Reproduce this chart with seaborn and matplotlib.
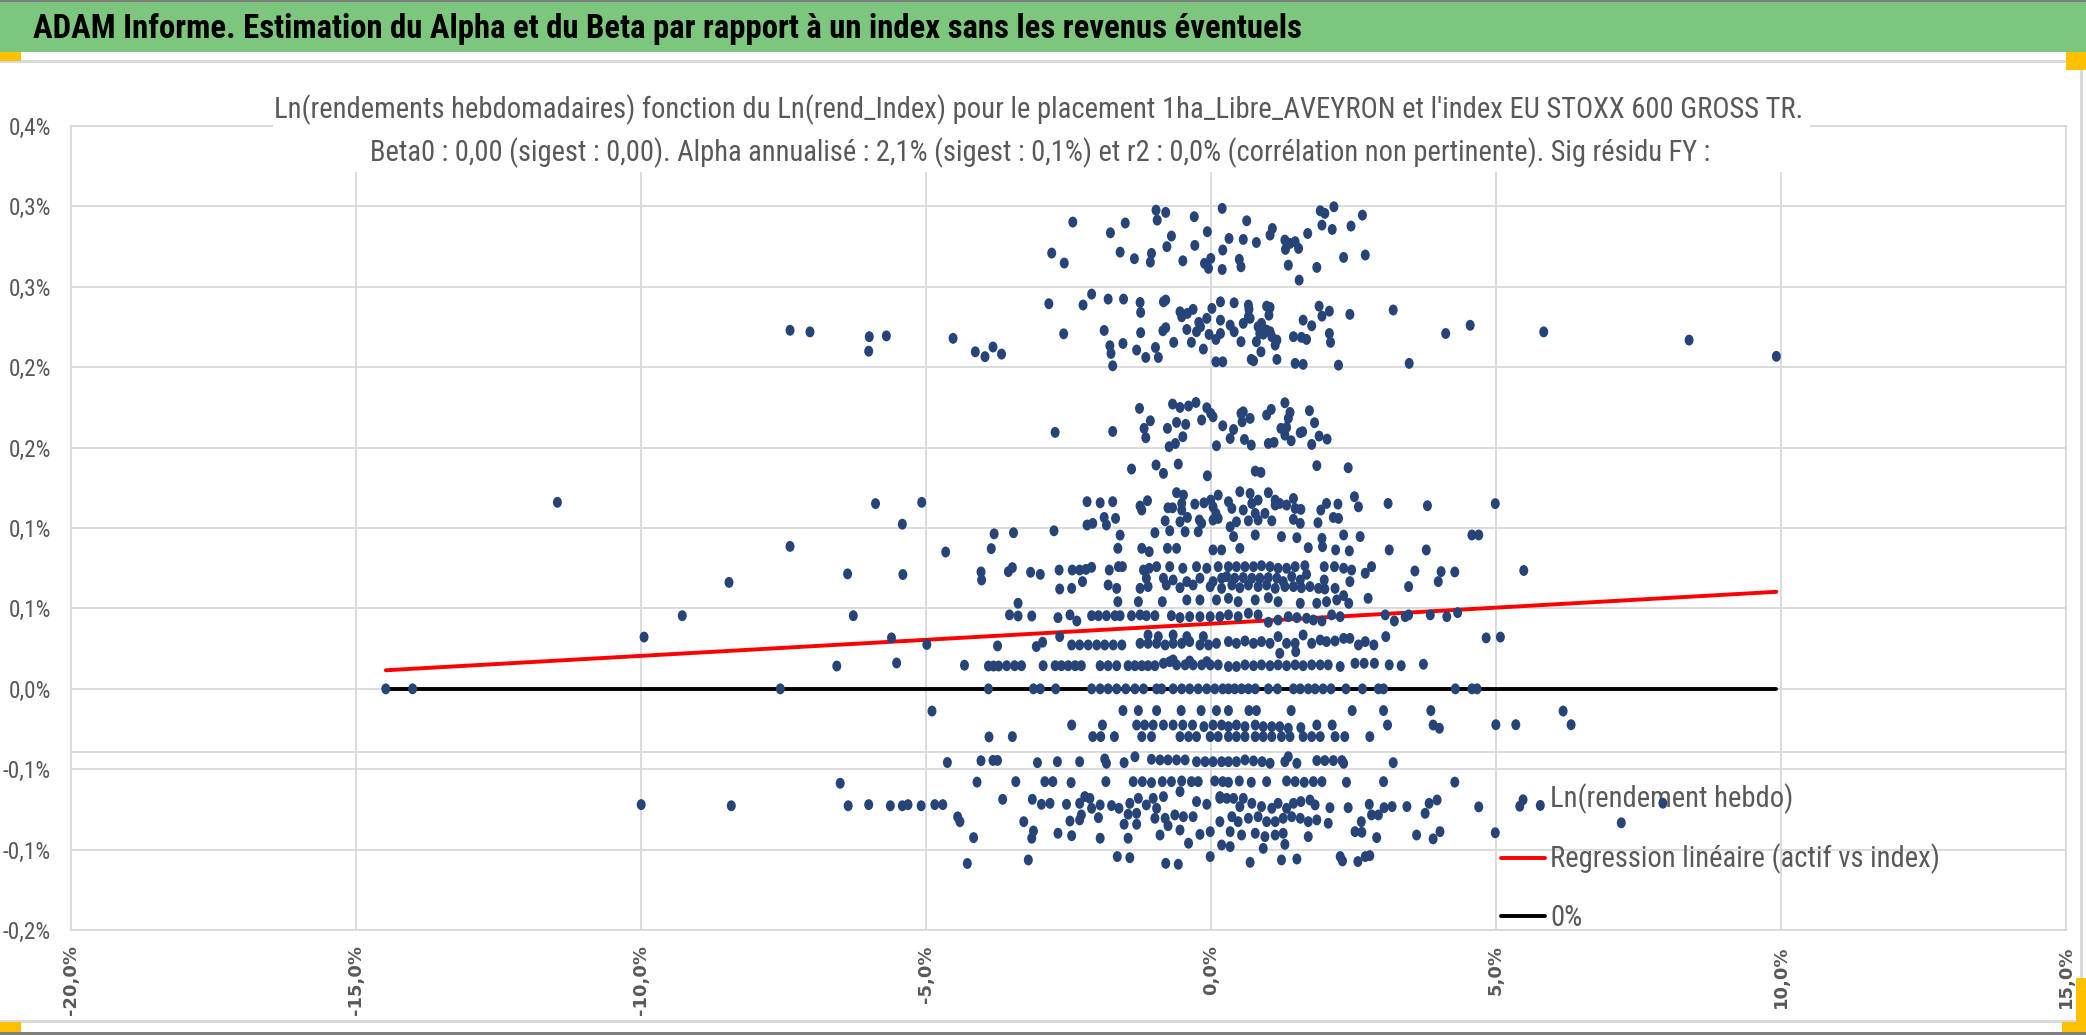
import matplotlib
matplotlib.use("Agg")
import matplotlib.pyplot as plt
from matplotlib import font_manager
from matplotlib.patches import Rectangle
from matplotlib.path import Path
from matplotlib.transforms import Affine2D
import seaborn as sns
import pandas as pd


BANNER = ("ADAM Informe. Estimation du Alpha et du Beta par rapport "
          "à un index sans les revenus éventuels")
TITLE_1 = ("Ln(rendements hebdomadaires) fonction du Ln(rend_Index) pour le placement "
           "1ha_Libre_AVEYRON et l'index EU STOXX 600 GROSS TR.")
TITLE_2 = ("Beta0 : 0,00 (sigest : 0,00). Alpha annualisé : 2,1% (sigest : 0,1%) "
           "et r2 : 0,0% (corrélation non pertinente). Sig résidu FY :")
LEGEND_LABELS = ["Ln(rendement hebdo)", "Regression linéaire (actif vs index)", "0%"]

# axis ticks (values in %)
x_ticks = [-20, -15, -10, -5, 0, 5, 10, 15]
x_tick_labels = ["-20,0%", "-15,0%", "-10,0%", "-5,0%", "0,0%", "5,0%", "10,0%", "15,0%"]
y_ticks = [-0.15, -0.10, -0.05, 0.0, 0.05, 0.10, 0.15, 0.20, 0.25, 0.30, 0.35]
y_tick_labels = ["-0,2%", "-0,1%", "-0,1%", "0,0%", "0,1%", "0,1%",
                 "0,2%", "0,2%", "0,3%", "0,3%", "0,4%"]

# regression (weekly alpha in %, beta)
reg_alpha = 0.0405
reg_beta = 0.0020
odd_line_y = -0.039

# (index ln-return %, asset ln-return %)
weekly_left = [
    (-14.47, 0.0), (-14.00, 0.0), (-11.46, 0.116), (-7.55, 0.0),
    (-7.38, 0.223), (-7.03, 0.222), (-5.99, 0.219), (-6.00, 0.210), (-5.69, 0.2195),
    (-4.52, 0.218), (-4.13, 0.2096), (-3.96, 0.2066), (-3.82, 0.2126),
    (-5.88, 0.1152), (-5.07, 0.116), (-5.41, 0.1024), (-7.38, 0.0886), (-4.65, 0.0851),
    (-3.80, 0.0964), (-3.85, 0.0872),
    (-8.45, 0.0662), (-6.37, 0.0715), (-5.40, 0.0711), (-4.03, 0.0727), (-4.02, 0.0677),
    (-9.27, 0.0455), (-6.27, 0.0455), (-9.94, 0.0322), (-5.60, 0.0317), (-4.98, 0.0276),
    (-3.74, 0.0267),
    (-6.56, 0.0142), (-5.51, 0.0161), (-4.32, 0.0147), (-3.90, 0.0142), (-3.81, 0.0142),
    (-3.72, 0.0142), (-3.90, 0.0),
    (-4.89, -0.0138), (-3.89, -0.0299), (-4.62, -0.0458), (-4.03, -0.0447),
    (-3.82, -0.0445), (-3.74, -0.0445), (-6.50, -0.0587), (-4.10, -0.058),
    (-9.99, -0.072), (-8.41, -0.0727), (-6.36, -0.0727), (-6.00, -0.072), (-5.62, -0.0727),
    (-5.41, -0.0727), (-5.31, -0.072), (-5.08, -0.0727), (-4.84, -0.072), (-4.70, -0.072),
    (-4.44, -0.0796), (-4.40, -0.0826), (-4.16, -0.0925), (-4.27, -0.1086),
]

weekly_right = [
    (4.55, 0.2261), (5.84, 0.222), (8.39, 0.2169), (9.92, 0.2068),
    (4.99, 0.1152), (4.58, 0.0957), (4.70, 0.0957),
    (4.28, 0.0727), (5.49, 0.0736), (4.33, 0.0474), (4.83, 0.0317), (5.08, 0.0322),
    (4.29, 0.0), (4.58, 0.0), (4.67, 0.0),
    (6.18, -0.0138), (5.00, -0.0223), (5.35, -0.0223), (6.32, -0.0223),
    (4.28, -0.058), (4.70, -0.0734), (5.42, -0.073), (5.78, -0.0725), (7.93, -0.0711),
    (7.20, -0.0833), (4.99, -0.0895),
]

band_top = [
    (-0.96, 0.2977), (-0.79, 0.2963), (-0.94, 0.2915), (-0.29, 0.2936), (0.20, 0.2988),
    (-2.42, 0.2903), (-1.50, 0.2897), (-1.76, 0.2836), (-0.69, 0.2816), (-0.06, 0.2843),
    (-2.79, 0.271), (-2.57, 0.2648), (-1.59, 0.2716), (-1.34, 0.2675), (-1.04, 0.2708),
    (-1.06, 0.2654), (-0.77, 0.275), (-0.28, 0.2758), (-0.49, 0.2662), (-0.11, 0.2646),
    (0.00, 0.2677), (-0.04, 0.2615), (0.21, 0.2729), (0.20, 0.2608),
    (0.63, 0.2911), (0.32, 0.2801), (0.57, 0.2795), (0.80, 0.2776), (0.50, 0.2671),
    (0.53, 0.2625), (1.04, 0.2822), (1.08, 0.2863), (1.30, 0.2791), (1.39, 0.2770),
    (1.48, 0.2781), (1.31, 0.2733), (1.54, 0.2739), (1.70, 0.2832), (1.36, 0.2635),
    (1.55, 0.2542), (1.92, 0.2973), (2.00, 0.2957), (2.16, 0.2998), (1.95, 0.2884),
    (2.13, 0.2857), (2.46, 0.2878), (2.66, 0.2946), (2.33, 0.2683), (2.71, 0.2698),
    (1.86, 0.2621),
]

band_upper = [
    (-2.84, 0.2395), (-2.24, 0.2387), (-2.09, 0.2455), (-1.80, 0.2424), (-1.53, 0.2424),
    (-1.24, 0.2403), (-1.23, 0.2341), (-0.83, 0.2407), (-0.79, 0.2418), (-0.54, 0.2345),
    (-0.51, 0.2314), (-0.41, 0.2335), (-0.31, 0.2360), (0.02, 0.2366), (0.17, 0.2407),
    (-2.58, 0.2208), (-1.87, 0.2229), (-1.77, 0.2134), (-1.75, 0.2086), (-1.72, 0.2009),
    (-1.54, 0.2148), (-1.30, 0.2107), (-1.23, 0.2215), (-1.14, 0.2061), (-0.97, 0.2123),
    (-0.92, 0.2061), (-0.84, 0.2227), (-0.79, 0.2246), (-0.65, 0.2155), (-0.42, 0.2235),
    (-0.34, 0.2155), (-0.25, 0.2221), (-0.21, 0.2279), (-0.18, 0.2252), (-0.13, 0.2113),
    (-0.07, 0.2304), (-0.03, 0.2204), (0.09, 0.2173), (0.17, 0.2293), (0.17, 0.2210),
    (0.09, 0.2034), (0.21, 0.2034), (-3.67, 0.2082),
    (0.41, 0.2401), (0.66, 0.2387), (0.67, 0.2360), (0.98, 0.2380), (1.04, 0.2372),
    (1.02, 0.2324), (0.34, 0.2262), (0.41, 0.2221), (0.57, 0.2273), (0.66, 0.2314),
    (0.69, 0.2304), (0.83, 0.2252), (0.89, 0.2273), (0.86, 0.2210), (0.92, 0.2206),
    (0.98, 0.2231), (1.04, 0.2221), (1.07, 0.2190), (1.16, 0.2169), (1.13, 0.2138),
    (0.80, 0.2159), (0.53, 0.2159), (0.88, 0.2096), (0.71, 0.2049), (0.75, 0.2040),
    (1.16, 0.2049), (1.48, 0.2024), (1.62, 0.2018), (1.45, 0.2190), (1.59, 0.2186),
    (1.68, 0.2173), (1.62, 0.2293), (1.77, 0.2258), (1.90, 0.2380), (1.95, 0.2318),
    (2.08, 0.2349), (2.08, 0.2210), (2.10, 0.2155), (2.44, 0.2329), (2.24, 0.2013),
    (3.20, 0.2356), (3.48, 0.2024), (4.12, 0.2210),
]

band_mid = [
    (-1.25, 0.1744), (-1.17, 0.1620), (-1.14, 0.1562), (-1.06, 0.1667), (-0.76, 0.1620),
    (-0.67, 0.1771), (-0.60, 0.1657), (-0.54, 0.1750), (-0.44, 0.1645), (-0.39, 0.1759),
    (-0.26, 0.1781), (-0.16, 0.1672), (-0.49, 0.1568), (-0.62, 0.1526), (-0.73, 0.1506),
    (-0.07, 0.1748), (0.00, 0.1713), (0.04, 0.1692), (0.21, 0.1636), (-2.73, 0.1595),
    (-1.72, 0.1601), (0.10, 0.1512),
    (0.40, 0.1613), (0.34, 0.1557), (0.53, 0.1713), (0.57, 0.1723), (0.55, 0.1661),
    (0.69, 0.1682), (0.59, 0.1551), (0.71, 0.1516), (0.98, 0.1703), (1.06, 0.1738),
    (1.30, 0.1779), (1.39, 0.1719), (1.36, 0.1682), (1.23, 0.1620), (1.33, 0.1626),
    (1.30, 0.1578), (1.41, 0.1543), (1.57, 0.1593), (1.61, 0.1599), (1.73, 0.1730),
    (1.82, 0.1655), (1.90, 0.1572), (1.77, 0.1520), (2.04, 0.1553), (1.01, 0.1526),
    (1.11, 0.1533),
]

band_low = [
    (-1.39, 0.1367), (-0.96, 0.1392), (-0.83, 0.1340), (-0.57, 0.1398), (-0.06, 0.1325),
    (-0.60, 0.1220), (-0.48, 0.1205), (-0.51, 0.1153), (-0.51, 0.1112), (-0.28, 0.1149),
    (-0.12, 0.1157), (0.00, 0.1174), (0.04, 0.1132), (0.13, 0.1205), (0.09, 0.1091),
    (0.04, 0.1050), (0.13, 0.1060), (-2.17, 0.1164), (-1.94, 0.1157), (-1.72, 0.1164),
    (-1.24, 0.1137), (-1.21, 0.1112), (-1.11, 0.1170), (-0.75, 0.1126), (-0.67, 0.1126),
    (-0.80, 0.1045), (-0.54, 0.1039), (-0.41, 0.1066), (-0.20, 0.1050), (-0.16, 0.1029),
    (-2.17, 0.1019), (-2.07, 0.1029), (-1.87, 0.1066), (-1.83, 0.1019), (-1.67, 0.1060),
    (-3.46, 0.0971), (-2.75, 0.0983), (-1.59, 0.0956), (-0.98, 0.0971), (-0.72, 0.0983),
    (-0.45, 0.0977), (-0.22, 0.0977),
    (0.78, 0.1354), (0.88, 0.1346), (1.86, 0.1388), (2.41, 0.1375), (0.51, 0.1226),
    (0.69, 0.1215), (1.01, 0.1220), (1.13, 0.1174), (0.83, 0.1174), (0.72, 0.1153),
    (0.31, 0.1164), (0.37, 0.1122), (0.57, 0.1112), (0.78, 0.1091), (0.95, 0.1091),
    (1.13, 0.1143), (1.21, 0.1153), (1.33, 0.1143), (1.45, 0.1184), (1.48, 0.1122),
    (1.58, 0.1116), (1.45, 0.1054), (1.57, 0.1029), (1.07, 0.1045), (0.83, 0.1050),
    (0.66, 0.1045), (0.45, 0.1039), (0.34, 0.1008), (1.93, 0.1112), (2.03, 0.1153),
    (2.23, 0.1149), (2.15, 0.1066), (2.24, 0.1060), (1.88, 0.1033), (2.52, 0.1195),
    (2.59, 0.1132), (3.11, 0.1153), (3.80, 0.1139),
]

rows_pos = [
    # ~0.09
    (-1.63, 0.0874), (-1.21, 0.0874), (-1.08, 0.0853), (-0.76, 0.0874), (-0.60, 0.0874),
    (0.04, 0.0864), (0.19, 0.0864), (0.40, 0.0947), (0.78, 0.0957), (1.24, 0.0947),
    (1.51, 0.0940), (1.95, 0.0936), (2.33, 0.0957), (2.62, 0.0947), (0.51, 0.0874),
    (1.71, 0.0878), (1.96, 0.0884), (2.19, 0.0864), (2.43, 0.0858), (3.13, 0.0864),
    (3.78, 0.0864),
    # ~0.07
    (-3.55, 0.0729), (-3.48, 0.0754), (-3.16, 0.0725), (-2.99, 0.0712), (-2.66, 0.0739),
    (-2.43, 0.0739), (-2.30, 0.0739), (-2.19, 0.0743), (-2.09, 0.0756), (-1.78, 0.0739),
    (-1.62, 0.0760), (-1.55, 0.0760), (-1.18, 0.0739), (-1.08, 0.0750), (-0.95, 0.0760),
    (-0.72, 0.0760), (-0.49, 0.0750), (-0.25, 0.0760), (-0.07, 0.0750), (0.13, 0.0760),
    (-1.13, 0.0688), (-0.83, 0.0688), (-0.66, 0.0677), (-0.42, 0.0667), (-0.19, 0.0688),
    (0.04, 0.0667), (0.19, 0.0688),
    (0.31, 0.0760), (0.45, 0.0760), (0.60, 0.0760), (0.75, 0.0760), (0.89, 0.0766),
    (1.04, 0.0760), (1.18, 0.0750), (1.33, 0.0750), (1.48, 0.0760), (1.65, 0.0766),
    (1.99, 0.0760), (2.17, 0.0760), (2.33, 0.0750), (2.47, 0.0739), (2.82, 0.0760),
    (2.71, 0.0719), (0.28, 0.0698), (0.42, 0.0688), (0.57, 0.0692), (0.72, 0.0688),
    (0.86, 0.0688), (1.01, 0.0692), (1.16, 0.0688), (1.27, 0.0667), (1.42, 0.0698),
    (1.57, 0.0677), (1.68, 0.0712), (1.99, 0.0677), (2.44, 0.0667), (3.58, 0.0733),
    (3.99, 0.0667), (4.04, 0.0729),
    # ~0.063
    (-2.65, 0.0621), (-2.44, 0.0625), (-2.25, 0.0667), (-1.80, 0.0646), (-1.65, 0.0625),
    (-1.24, 0.0625), (-1.10, 0.0636), (-0.78, 0.0646), (-0.54, 0.0629), (-0.31, 0.0646),
    (-0.01, 0.0636), (0.19, 0.0625), (0.37, 0.0646), (0.51, 0.0629), (0.66, 0.0646),
    (0.83, 0.0636), (0.98, 0.0646), (1.13, 0.0625), (1.30, 0.0636), (1.45, 0.0636),
    (1.59, 0.0629), (1.74, 0.0636), (1.89, 0.0625), (2.00, 0.0621), (2.18, 0.0625),
    (3.47, 0.0636),
    # ~0.055
    (-3.38, 0.0532), (-1.63, 0.0542), (-1.27, 0.0542), (-0.85, 0.0542), (-0.42, 0.0553),
    (-0.19, 0.0553), (0.10, 0.0553), (0.31, 0.0563), (0.48, 0.0542), (0.78, 0.0553),
    (1.01, 0.0567), (1.18, 0.0542), (1.57, 0.0532), (1.86, 0.0532), (2.03, 0.0542),
    (2.21, 0.0553), (2.33, 0.0580), (2.42, 0.0532), (2.76, 0.0563),
    # ~0.045
    (-3.53, 0.0460), (-3.38, 0.0453), (-3.14, 0.0453), (-2.68, 0.0443), (-2.47, 0.0460),
    (-2.35, 0.0422), (-2.09, 0.0455), (-1.97, 0.0455), (-1.83, 0.0455), (-1.68, 0.0455),
    (-1.59, 0.0455), (-1.39, 0.0455), (-1.24, 0.0460), (-1.13, 0.0455), (-0.98, 0.0455),
    (-0.69, 0.0455), (-0.54, 0.0443), (-0.37, 0.0449), (-0.19, 0.0449), (-0.01, 0.0449),
    (0.16, 0.0449), (0.31, 0.0460), (0.48, 0.0449), (0.66, 0.0470), (0.83, 0.0460),
    (1.01, 0.0414), (1.18, 0.0428), (1.36, 0.0449), (1.51, 0.0443), (1.68, 0.0439),
    (1.80, 0.0428), (1.95, 0.0422), (2.12, 0.0460), (2.27, 0.0449), (3.06, 0.0460),
    (3.22, 0.0422), (3.41, 0.0449), (3.47, 0.0460), (3.85, 0.0460), (4.14, 0.0449),
    # ~0.028
    (-3.06, 0.0263), (-2.95, 0.0290), (-2.65, 0.0325), (-2.44, 0.0273), (-2.30, 0.0273),
    (-2.15, 0.0273), (-2.00, 0.0273), (-1.86, 0.0273), (-1.71, 0.0273), (-1.56, 0.0273),
    (-1.24, 0.0283), (-1.10, 0.0283), (-0.95, 0.0283), (-0.80, 0.0273), (-0.66, 0.0283),
    (-0.51, 0.0283), (-0.37, 0.0294), (-0.19, 0.0273), (-0.04, 0.0273), (0.10, 0.0283),
    (-1.10, 0.0335), (-0.92, 0.0325), (-0.66, 0.0335), (-0.42, 0.0325), (-0.13, 0.0325),
    (0.31, 0.0294), (0.45, 0.0283), (0.60, 0.0298), (0.75, 0.0283), (0.89, 0.0294),
    (1.04, 0.0283), (1.18, 0.0325), (1.33, 0.0283), (1.48, 0.0283), (1.62, 0.0335),
    (1.77, 0.0283), (1.92, 0.0304), (2.03, 0.0294), (2.18, 0.0298), (2.33, 0.0314),
    (2.44, 0.0314), (2.59, 0.0273), (2.71, 0.0294), (2.86, 0.0273), (3.07, 0.0325),
    (1.21, 0.0221), (1.49, 0.0231),
    # ~0.015
    (-3.58, 0.0144), (-3.44, 0.0144), (-3.32, 0.0144), (-2.94, 0.0144), (-2.73, 0.0144),
    (-2.62, 0.0144), (-2.50, 0.0144), (-2.38, 0.0144), (-2.27, 0.0144), (-1.94, 0.0144),
    (-1.80, 0.0144), (-1.65, 0.0144), (-1.45, 0.0144), (-1.33, 0.0144), (-1.21, 0.0144),
    (-1.10, 0.0144), (-0.98, 0.0144), (-0.83, 0.0159), (-0.72, 0.0169), (-0.60, 0.0149),
    (-0.45, 0.0149), (-0.31, 0.0149), (-0.16, 0.0149), (-0.01, 0.0149), (0.13, 0.0149),
    (-0.66, 0.0180), (-0.37, 0.0173), (-0.07, 0.0169),
    (0.31, 0.0139), (0.45, 0.0139), (0.60, 0.0149), (0.75, 0.0144), (0.89, 0.0149),
    (1.04, 0.0144), (1.18, 0.0149), (1.33, 0.0144), (1.48, 0.0149), (1.62, 0.0144),
    (1.77, 0.0149), (1.92, 0.0149), (2.06, 0.0149), (2.27, 0.0139), (2.53, 0.0159),
    (2.69, 0.0159), (2.87, 0.0159), (3.13, 0.0149), (3.34, 0.0144), (3.73, 0.0153),
]

zero_row_x = [
    -3.11, -2.99, -2.72, -2.09, -1.94, -1.80, -1.65, -1.49, -1.33, -1.18, -0.95, -0.86,
    -0.66, -0.51, -0.37, -0.22, -0.07, 0.07, 0.21, 0.31, 0.42, 0.54, 0.66, 0.78, 1.01,
    1.17, 1.45, 1.57, 1.71, 1.83, 1.97, 2.11, 2.37, 2.66, 2.94, 3.03,
]

rows_neg = [
    # ~-0.014
    (-1.54, -0.0135), (-1.27, -0.0135), (-0.95, -0.0135), (-0.52, -0.0135), (-0.17, -0.0135),
    (0.10, -0.0135), (0.31, -0.0135), (0.67, -0.0135), (0.80, -0.0135), (1.41, -0.0135),
    (2.48, -0.0135), (3.03, -0.0135), (3.86, -0.0135),
    # ~-0.023
    (-2.44, -0.0225), (-1.90, -0.0225), (-1.30, -0.0225), (-1.16, -0.0225), (-1.01, -0.0225),
    (-0.83, -0.0225), (-0.66, -0.0225), (-0.49, -0.0225), (-0.32, -0.0225), (-0.12, -0.0235),
    (0.04, -0.0225), (0.19, -0.0225), (0.31, -0.0235), (0.45, -0.0225), (0.60, -0.0235),
    (0.78, -0.0225), (0.92, -0.0235), (1.07, -0.0235), (1.21, -0.0235), (1.36, -0.0245),
    (1.58, -0.0241), (1.86, -0.0225), (2.13, -0.0225), (3.10, -0.0225), (3.90, -0.0225),
    (4.01, -0.0245),
    # ~-0.030
    (-3.48, -0.0297), (-2.07, -0.0297), (-1.93, -0.0297), (-1.69, -0.0297), (-1.21, -0.0297),
    (-1.04, -0.0297), (-0.54, -0.0297), (-0.39, -0.0297), (-0.25, -0.0297), (-0.01, -0.0297),
    (0.13, -0.0297), (0.31, -0.0297), (0.45, -0.0297), (0.60, -0.0297), (0.78, -0.0297),
    (0.92, -0.0297), (1.07, -0.0297), (1.24, -0.0297), (1.39, -0.0297), (1.62, -0.0297),
    (1.77, -0.0297), (1.92, -0.0297), (2.18, -0.0297), (2.35, -0.0297), (2.79, -0.0297),
    # ~-0.045
    (-3.04, -0.0459), (-2.69, -0.0453), (-2.30, -0.0453), (-1.86, -0.0436), (-1.83, -0.0463),
    (-1.52, -0.0459), (-1.33, -0.0422), (-1.04, -0.0438), (-0.89, -0.0442), (-0.75, -0.0442),
    (-0.60, -0.0442), (-0.45, -0.0442), (-0.25, -0.0453), (-0.10, -0.0453), (0.04, -0.0453),
    (0.19, -0.0453), (0.31, -0.0453), (0.45, -0.0453), (0.60, -0.0442), (0.75, -0.0448),
    (0.90, -0.0453), (1.04, -0.0463), (1.30, -0.0453), (1.36, -0.0422), (1.51, -0.0463),
    (1.86, -0.0446), (2.00, -0.0446), (2.15, -0.0446), (2.30, -0.0446), (2.33, -0.0463),
    (3.20, -0.0459),
    # ~-0.058
    (-3.42, -0.0577), (-2.91, -0.0577), (-2.77, -0.0577), (-2.45, -0.0583), (-1.84, -0.0577),
    (-1.36, -0.0577), (-1.20, -0.0577), (-1.04, -0.0583), (-0.85, -0.0577), (-0.69, -0.0577),
    (-0.51, -0.0573), (-0.34, -0.0577), (-0.22, -0.0577), (0.07, -0.0573), (0.21, -0.0577),
    (-0.54, -0.0639), (0.16, -0.0670), (0.31, -0.0581), (0.50, -0.0573), (0.71, -0.0581),
    (0.98, -0.0577), (1.33, -0.0573), (1.48, -0.0577), (1.64, -0.0581), (1.80, -0.0577),
    (1.95, -0.0577), (2.38, -0.0581), (3.03, -0.0577),
]

band_bottom = [
    (-3.65, -0.0687), (-3.13, -0.0687), (-2.97, -0.0718), (-2.82, -0.0712), (-2.53, -0.0718),
    (-2.30, -0.0712), (-2.21, -0.0670), (-2.12, -0.0681), (-2.09, -0.0743), (-1.94, -0.0722),
    (-1.74, -0.0726), (-1.61, -0.0743), (-1.42, -0.0712), (-1.27, -0.0681), (-1.01, -0.0681),
    (-0.83, -0.0670), (-2.27, -0.0784), (-2.30, -0.0815), (-2.47, -0.0822), (-1.97, -0.0801),
    (-1.45, -0.0780), (-1.30, -0.0774), (-1.13, -0.0722), (-0.95, -0.0743), (-3.28, -0.0826),
    (-3.11, -0.0884), (-3.14, -0.0929), (-2.68, -0.0898), (-2.44, -0.0913), (-1.94, -0.0929),
    (-1.45, -0.0929), (-1.52, -0.0842), (-1.30, -0.0842), (-0.98, -0.0805), (-0.80, -0.0805),
    (-0.63, -0.0784), (-0.48, -0.0795), (-0.31, -0.0795), (-0.25, -0.0701), (-0.07, -0.0718),
    (0.16, -0.0681), (-0.89, -0.0909), (-0.75, -0.0851), (-0.54, -0.0878), (-0.39, -0.0960),
    (-0.19, -0.0905), (-0.01, -0.0888), (0.16, -0.0826), (0.19, -0.0971), (-3.20, -0.1064),
    (-1.64, -0.1043), (-1.42, -0.1050), (-0.79, -0.1085), (-0.57, -0.1091), (-0.01, -0.1043),
    (0.28, -0.0681), (0.40, -0.0681), (0.57, -0.0681), (0.51, -0.0732), (0.72, -0.0712),
    (0.89, -0.0732), (1.07, -0.0743), (1.18, -0.0712), (1.33, -0.0743), (1.45, -0.0712),
    (1.58, -0.0701), (1.74, -0.0691), (1.83, -0.0722), (2.09, -0.0739), (2.41, -0.0739),
    (2.78, -0.0718), (3.04, -0.0739), (3.18, -0.0732), (3.44, -0.0732), (3.97, -0.0691),
    (3.83, -0.0712), (3.76, -0.0774), (2.82, -0.0784), (2.94, -0.0784), (2.64, -0.0826),
    (0.37, -0.0795), (0.48, -0.0826), (0.66, -0.0805), (0.83, -0.0795), (0.98, -0.0826),
    (1.13, -0.0826), (1.27, -0.0805), (1.42, -0.0795), (1.57, -0.0805), (1.71, -0.0826),
    (1.86, -0.0815), (2.06, -0.0836), (0.34, -0.0888), (0.54, -0.0909), (0.78, -0.0898),
    (0.95, -0.0919), (1.13, -0.0909), (1.27, -0.0898), (1.71, -0.0919), (2.53, -0.0888),
    (2.65, -0.0892), (2.91, -0.0925), (3.61, -0.0909), (4.02, -0.0888), (3.90, -0.0933),
    (0.34, -0.0981), (0.92, -0.0992), (1.30, -0.0967), (0.69, -0.1079), (1.24, -0.1064),
    (1.51, -0.1058), (2.27, -0.1043), (2.31, -0.1070), (2.58, -0.1074), (2.71, -0.1043),
    (2.79, -0.1037),
]


def build_frame():
    pts = (weekly_left + weekly_right + band_top + band_upper + band_mid
           + band_low + rows_pos + [(x, 0.0) for x in zero_row_x]
           + rows_neg + band_bottom)
    return pd.DataFrame(pts, columns=["index", "actif"])


def main():
    df = build_frame()

    sns.set_style("white")
    installed = {f.name for f in font_manager.fontManager.ttflist}
    prefer = ["Liberation Sans Narrow", "Roboto Condensed", "Open Sans Condensed",
              "Liberation Sans"]
    narrow = next((n for n in prefer if n in installed), "DejaVu Sans")
    plt.rcParams["font.family"] = [narrow, "DejaVu Sans"]

    grey_txt = "#595959"
    grid_col = "#D9D9D9"
    W, H = 2086, 1035

    fig = plt.figure(figsize=(W / 100, H / 100), dpi=100)
    renderer = fig.canvas.get_renderer()

    def size_for(text, width_px, weight="normal"):
        # font size that gives the wanted pixel width in the chosen family
        t = fig.text(0, 0, text, fontsize=20, fontweight=weight)
        w = t.get_window_extent(renderer).width
        t.remove()
        return 20 * width_px / w

    ytick_size = size_for("-0,1%", 48)
    legend_size = size_for(LEGEND_LABELS[1], 389)

    ax = fig.add_axes([0.0338, 0.1014, 0.9566, 0.7768])

    # Excel markers are a little taller than wide
    dot = Path.unit_circle().transformed(Affine2D().scale(0.82, 1.0))
    sns.scatterplot(data=df, x="index", y="actif", ax=ax, color="#264478",
                    marker=dot, s=62, edgecolor="none", label=LEGEND_LABELS[0], zorder=3)

    x_lo, x_hi = df["index"].min(), df["index"].max()
    sns.lineplot(x=[x_lo, x_hi], y=[reg_alpha + reg_beta * x_lo, reg_alpha + reg_beta * x_hi],
                 ax=ax, color="#FF0000", linewidth=2.8, label=LEGEND_LABELS[1], zorder=2)
    sns.lineplot(x=[x_lo, x_hi], y=[0.0, 0.0], ax=ax, color="black",
                 linewidth=2.8, label=LEGEND_LABELS[2], zorder=2)
    ax.axhline(odd_line_y, color=grid_col, linewidth=1.3, zorder=0)

    ax.set_xlim(-20, 15)
    ax.set_ylim(-0.15, 0.35)
    ax.set_xticks(x_ticks, labels=x_tick_labels, rotation=90, fontfamily="DejaVu Sans",
                  fontweight="bold", fontsize=13, color=grey_txt)
    ax.set_yticks(y_ticks, labels=y_tick_labels, fontsize=ytick_size, color=grey_txt)
    ax.tick_params(axis="x", length=0, pad=11)
    ax.tick_params(axis="y", length=0, pad=14)
    ax.grid(True, color=grid_col, linewidth=1.3)
    ax.set_axisbelow(True)
    for sp in ax.spines.values():
        sp.set_color(grid_col)
        sp.set_linewidth(1.3)
    ax.set_xlabel("")
    ax.set_ylabel("")

    # rows about 59 px apart, first row centred near y = 800 px
    f_px = legend_size * 100 / 72
    spacing = (62.5 - 1.15 * f_px) / f_px
    top_px = 800 - 0.58 * f_px
    leg = ax.legend(loc="upper left", bbox_to_anchor=(0.7169, (930 - top_px) / 804),
                    frameon=False, fontsize=legend_size, labelcolor=grey_txt,
                    handlelength=44 / f_px, handletextpad=5 / f_px,
                    labelspacing=spacing, borderpad=0, borderaxespad=0)
    leg.set_zorder(2.5)

    def box(x0, y0, x1, y1, color, z=1):
        fig.add_artist(Rectangle((x0 / W, 1 - y1 / H), (x1 - x0) / W, (y1 - y0) / H,
                                 transform=fig.transFigure, facecolor=color,
                                 edgecolor="none", zorder=z))

    # green banner and frame bits
    box(0, 0, W, 52, "#7DC67D")
    box(0, 0, W, 2, "#7F7F7F")
    box(0, 60, W, 63, grid_col)
    box(0, 1020, W, 1023, grid_col)
    box(0, 1032, W, 1035, "#7F7F7F")
    box(2080, 63, 2083, 1020, grid_col)
    # selection handles
    box(0, 52, 21, 61, "#FFC000", 3)
    box(2066, 52, 2086, 70, "#FFC000", 3)
    box(0, 1022, 21, 1032, "#FFC000", 3)
    box(2076, 978, 2086, 1032, "#FFC000", 3)
    box(2062, 1022, 2086, 1032, "#FFC000", 3)
    # white title area over the gridlines
    box(273, 64, 1810, 172, "white", 1)

    fig.text(33 / W, 1 - 29 / H, BANNER, fontsize=size_for(BANNER, 1267, "bold"),
             fontweight="bold", color="black", ha="left", va="center", zorder=4)
    fig.text(1039 / W, 1 - 110 / H, TITLE_1, fontsize=size_for(TITLE_1, 1523),
             color=grey_txt, ha="center", va="center", zorder=4)
    fig.text(1040 / W, 1 - 153 / H, TITLE_2, fontsize=size_for(TITLE_2, 1340),
             color=grey_txt, ha="center", va="center", zorder=4)

    fig.savefig("out.png", dpi=100)
    plt.close(fig)


if __name__ == "__main__":
    main()
